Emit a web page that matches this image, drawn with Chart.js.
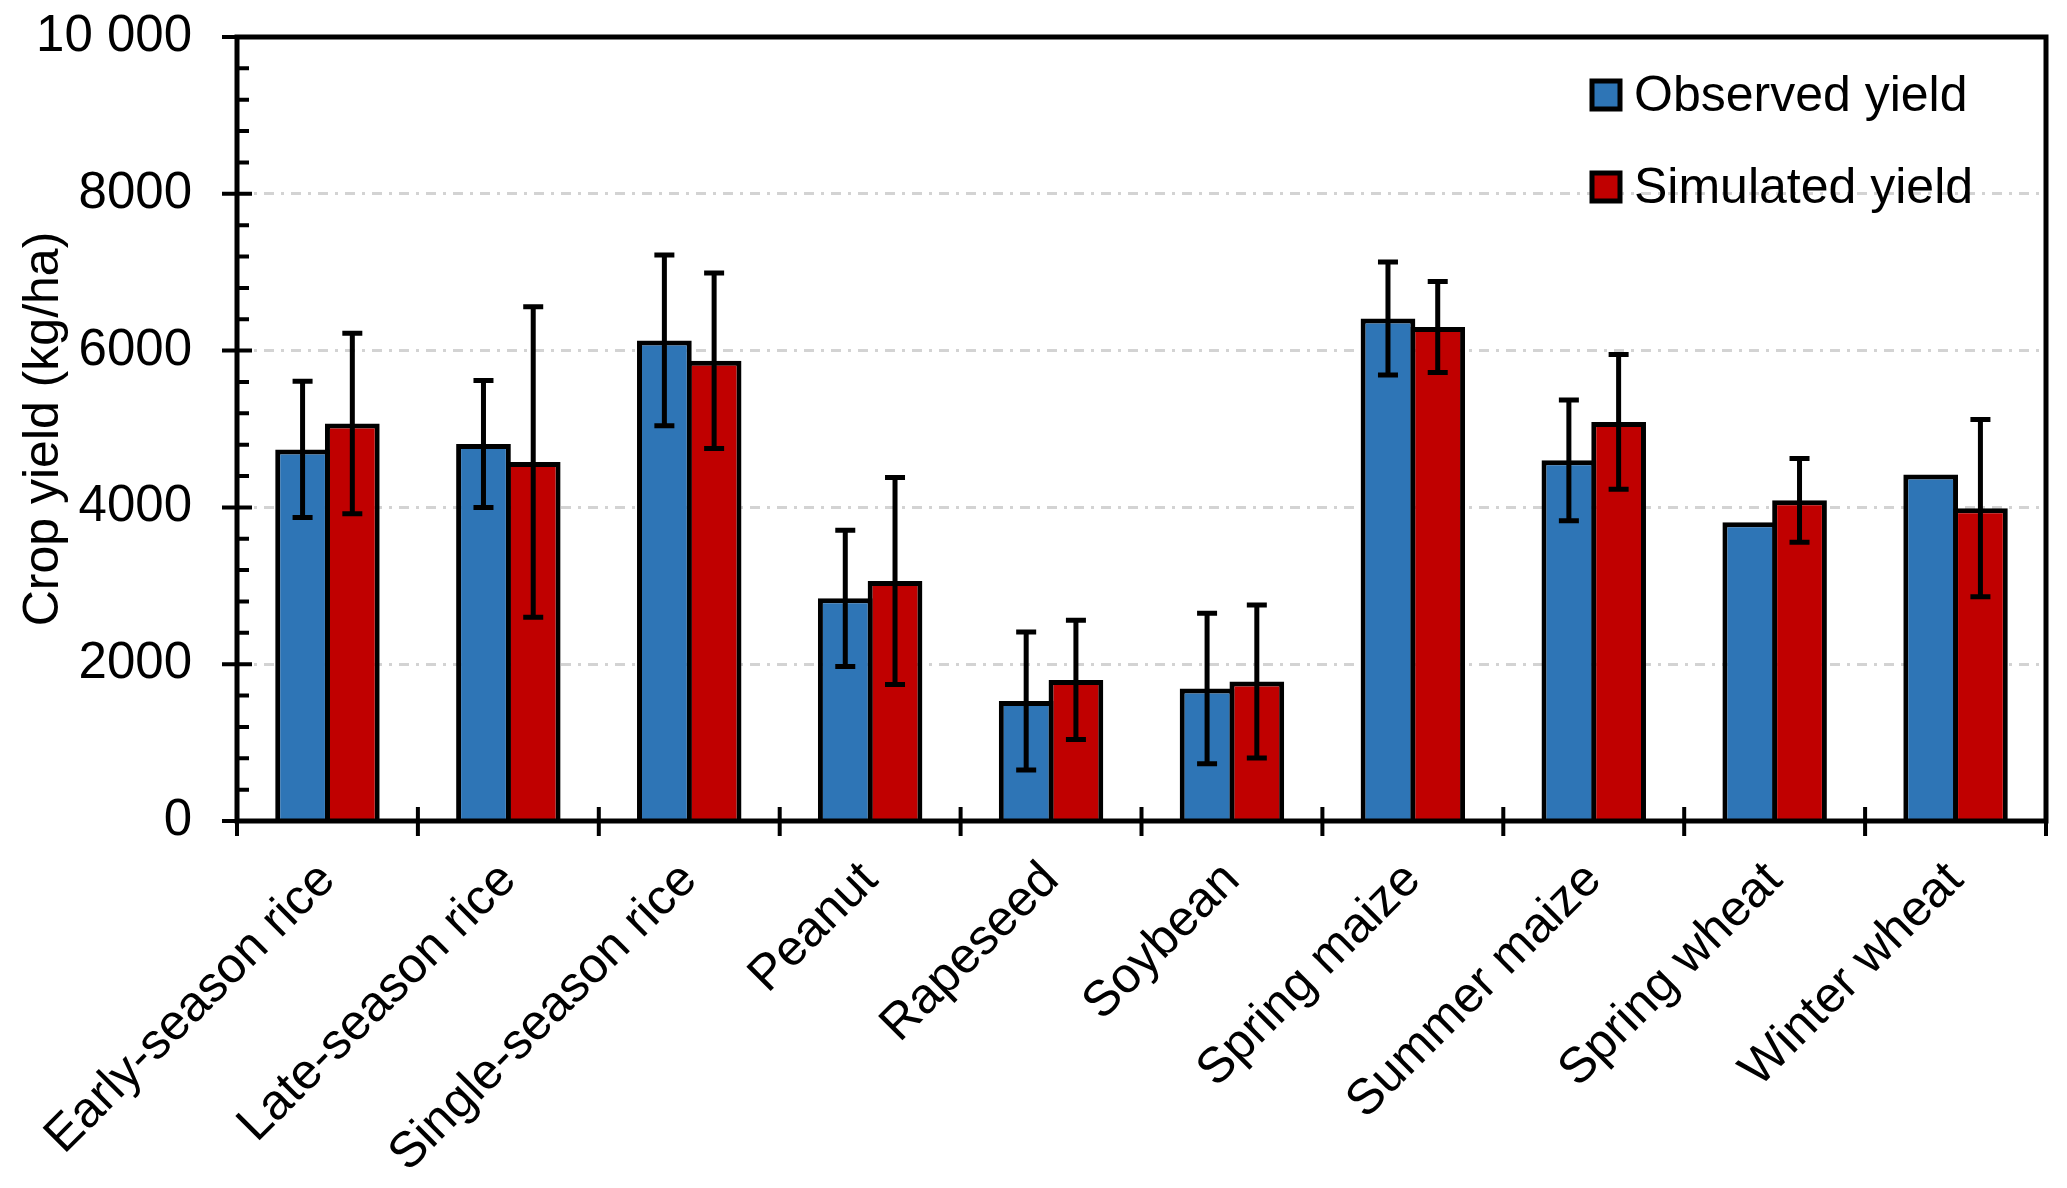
<!DOCTYPE html>
<html>
<head>
<meta charset="utf-8">
<script src="https://cdn.jsdelivr.net/npm/chart.js@4.4.0/dist/chart.umd.min.js"></script>
<style>
  html, body { margin: 0; padding: 0; background: #fff; }
  canvas { display: block; }
</style>
</head>
<body>
<canvas id="yieldChart" width="2067" height="1188"></canvas>
<script>
// Data (kg/ha)
const crops = ["Early-season rice", "Late-season rice", "Single-season rice", "Peanut", "Rapeseed",
               "Soybean", "Spring maize", "Summer maize", "Spring wheat", "Winter wheat"];
const observed    = [4740, 4810, 6130, 2840, 1530, 1690, 6410, 4600, 3810, 4420];
const observedErr = [870, 810, 1090, 870, 880, 960, 720, 770, null, null];
const simulated    = [5070, 4580, 5870, 3060, 1800, 1780, 6300, 5090, 4090, 3990];
const simulatedErr = [1150, 1980, 1120, 1320, 760, 975, 580, 860, 535, 1130];
const yTickValues = [0, 2000, 4000, 6000, 8000, 10000];
const yTickLabels = ["0", "2000", "4000", "6000", "8000", "10 000"];
const seriesNames = ["Observed yield", "Simulated yield"];

const FONT = "'Liberation Sans', Arial, sans-serif";
const BLUE = "#2E75B6";
const RED = "#C00000";

// error bars, axis box, tick marks and the legend
const extras = {
    id: "extras",
    afterDatasetsDraw(chart) {
        const ctx = chart.ctx;
        const x = chart.scales.x;
        const y = chart.scales.y;
        const a = chart.chartArea;
        ctx.save();
        ctx.strokeStyle = "#000";
        ctx.lineCap = "butt";

        // error bars
        ctx.lineWidth = 5;
        [observedErr, simulatedErr].forEach((errs, di) => {
            const vals = chart.data.datasets[di].data;
            chart.getDatasetMeta(di).data.forEach((bar, i) => {
                if (errs[i] == null) return;
                const top = y.getPixelForValue(vals[i] + errs[i]);
                const bot = y.getPixelForValue(vals[i] - errs[i]);
                ctx.beginPath();
                ctx.moveTo(bar.x, top); ctx.lineTo(bar.x, bot);
                ctx.moveTo(bar.x - 10, top); ctx.lineTo(bar.x + 10, top);
                ctx.moveTo(bar.x - 10, bot); ctx.lineTo(bar.x + 10, bot);
                ctx.stroke();
            });
        });

        // box
        ctx.lineWidth = 5;
        ctx.strokeRect(a.left, a.top, a.right - a.left, a.bottom - a.top);

        // y ticks: major cross the axis, minor inside
        ctx.lineWidth = 4;
        ctx.beginPath();
        for (let v = 0; v <= 10000; v += 400) {
            const py = y.getPixelForValue(v);
            if (v % 2000 === 0) {
                ctx.moveTo(a.left - 15, py); ctx.lineTo(a.left + 15, py);
            } else {
                ctx.moveTo(a.left, py); ctx.lineTo(a.left + 12, py);
            }
        }
        // x ticks at category boundaries
        const half = (x.getPixelForValue(1) - x.getPixelForValue(0)) / 2;
        for (let i = 0; i <= crops.length; i++) {
            const px = i < crops.length ? x.getPixelForValue(i) - half : x.getPixelForValue(i - 1) + half;
            ctx.moveTo(px, a.bottom - 14); ctx.lineTo(px, a.bottom + 15);
        }
        ctx.stroke();

        // legend
        const colors = [BLUE, RED];
        ctx.font = "50px " + FONT;
        ctx.textBaseline = "alphabetic";
        seriesNames.forEach((name, i) => {
            const cy = a.top + 58 + i * 92;
            const bx = a.right - 454;
            ctx.fillStyle = colors[i];
            ctx.fillRect(bx, cy - 14, 28, 28);
            ctx.lineWidth = 5;
            ctx.strokeRect(bx, cy - 14, 28, 28);
            ctx.fillStyle = "#000";
            ctx.fillText(name, bx + 42, cy + 16);
        });
        ctx.restore();
    }
};

new Chart(document.getElementById("yieldChart"), {
    type: "bar",
    data: {
        labels: crops,
        datasets: [
            { label: seriesNames[0], data: observed, backgroundColor: BLUE, borderColor: "#000", borderWidth: 5 },
            { label: seriesNames[1], data: simulated, backgroundColor: RED, borderColor: "#000", borderWidth: 5 },
        ],
    },
    options: {
        responsive: false,
        animation: false,
        devicePixelRatio: 1,
        categoryPercentage: 0.55,
        barPercentage: 1.1,
        layout: { autoPadding: false, padding: { top: 37, right: 21, left: 0, bottom: 0 } },
        plugins: { legend: { display: false }, tooltip: { enabled: false } },
        scales: {
            x: {
                grid: { display: false },
                border: { display: false },
                ticks: {
                    autoSkip: false, minRotation: 45, maxRotation: 45,
                    color: "#000", font: { family: FONT, size: 50 }, padding: 22,
                },
                afterFit(scale) { scale.height = 367; },
            },
            y: {
                min: 0, max: 10000,
                afterBuildTicks(scale) { scale.ticks = yTickValues.map(v => ({ value: v })); },
                grid: {
                    drawTicks: true,
                    tickLength: 45,
                    tickColor: "rgba(0,0,0,0)",
                    color: ctx => (ctx.tick && (ctx.tick.value === 0 || ctx.tick.value === 10000)) ? "rgba(0,0,0,0)" : "#d3d3d3",
                    lineWidth: 3,
                },
                border: { display: false, dash: [10, 7, 3, 7] },
                ticks: {
                    color: "#000", font: { family: FONT, size: 51 }, padding: 0,
                    callback: (v) => yTickLabels[yTickValues.indexOf(v)],
                },
                title: {
                    display: true, text: "Crop yield (kg/ha)", color: "#000",
                    font: { family: FONT, size: 50 }, padding: { top: 14, bottom: 0 },
                },
                afterFit(scale) { scale.width = 237; },
            },
        },
    },
    plugins: [extras],
});
</script>
</body>
</html>
